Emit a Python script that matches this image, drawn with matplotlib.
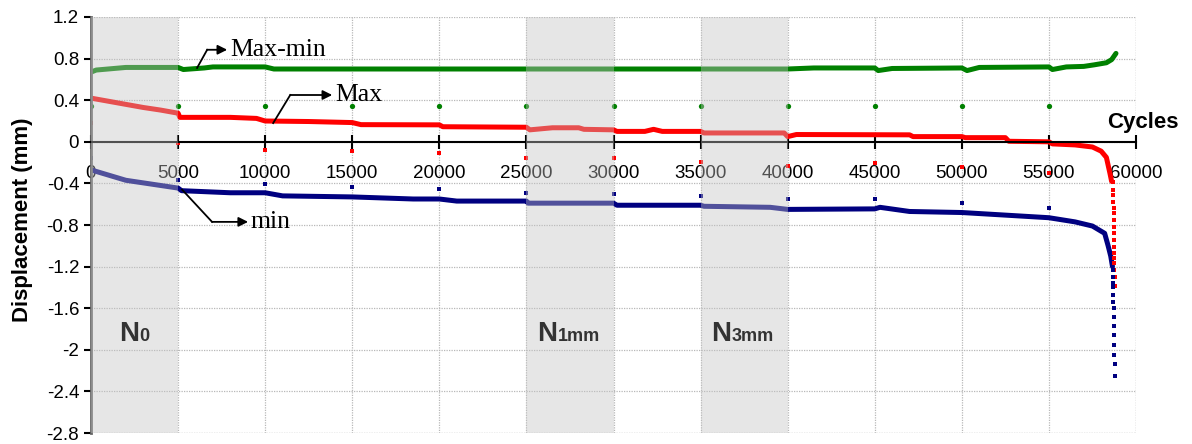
import numpy as np
import matplotlib.pyplot as plt
from matplotlib.ticker import FuncFormatter, MultipleLocator

plt.rcParams['font.family'] = ['Liberation Sans', 'DejaVu Sans']

# Max-min curve (mm) vs cycles
cyc_range = [0, 300, 2000, 5000, 5300, 6500, 7000, 10000, 10500, 20000, 30000, 40000,
             41500, 45000, 45200, 46000, 50000, 50300, 51000, 55000, 55200, 56000,
             57000, 57600, 58300, 58600, 58850]
disp_range = [0.67, 0.69, 0.715, 0.715, 0.695, 0.71, 0.72, 0.72, 0.70, 0.70, 0.70, 0.70,
              0.71, 0.71, 0.685, 0.705, 0.71, 0.685, 0.715, 0.72, 0.695, 0.72,
              0.725, 0.74, 0.76, 0.79, 0.85]

# Max curve
cyc_max = [0, 1000, 2000, 3000, 4000, 5000, 5100, 8000, 9500, 10000, 12500, 15000, 15500,
           20000, 20200, 25000, 25200, 26500, 28000, 28300, 30000, 30200, 31800, 32300,
           32800, 35000, 35200, 39800, 40000, 40500, 47000, 47200, 50000, 50200, 52500,
           52700, 55000, 55200, 56500, 57500, 58000, 58300, 58500, 58600]
disp_max = [0.42, 0.39, 0.36, 0.33, 0.305, 0.275, 0.235, 0.235, 0.225, 0.20, 0.195, 0.185, 0.165,
            0.163, 0.145, 0.14, 0.115, 0.135, 0.135, 0.12, 0.115, 0.10, 0.10, 0.12,
            0.10, 0.10, 0.085, 0.085, 0.05, 0.07, 0.067, 0.05, 0.05, 0.04, 0.04,
            0.005, 0.0, -0.02, -0.03, -0.05, -0.09, -0.15, -0.30, -0.38]
# Max: failure tail (scattered readings)
cyc_max_tail = [58680, 58690, 58700, 58700, 58710, 58710, 58720, 58720, 58730, 58730,
                58740, 58740, 58750, 58750, 58760, 58770, 58780]
disp_max_tail = [-0.39, -0.46, -0.51, -0.58, -0.64, -0.68, -0.75, -0.82, -0.88, -0.94,
                 -1.01, -1.07, -1.12, -1.17, -1.23, -1.30, -1.39]

# min curve
cyc_min = [0, 2000, 5000, 5200, 8000, 10000, 11000, 15000, 18500, 20000, 21000, 25000,
           25100, 30000, 30200, 35000, 35200, 39000, 40000, 45000, 45300, 47000, 50000,
           52000, 55000, 56500, 57500, 58200, 58400, 58550, 58650]
disp_min = [-0.27, -0.37, -0.445, -0.47, -0.49, -0.49, -0.52, -0.53, -0.55, -0.55, -0.57, -0.57,
            -0.59, -0.59, -0.61, -0.61, -0.62, -0.63, -0.65, -0.645, -0.63, -0.67, -0.68,
            -0.70, -0.73, -0.77, -0.81, -0.88, -1.0, -1.1, -1.2]
cyc_min_tail = [58660, 58670, 58680, 58690, 58700, 58700, 58710, 58720, 58730, 58740,
                58750, 58760, 58770, 58780]
disp_min_tail = [-1.23, -1.30, -1.36, -1.40, -1.47, -1.54, -1.60, -1.68, -1.77, -1.86,
                 -1.95, -2.05, -2.14, -2.25]

# isolated readings at every 5000 cycles
cyc_marks = [0, 5000, 10000, 15000, 20000, 25000, 30000, 35000, 40000, 45000, 50000, 55000]
range_marks = [0.34] * 12
max_marks = [0.18, -0.01, -0.08, -0.09, -0.11, -0.16, -0.16, -0.19, -0.23, -0.20, -0.24, -0.30]
min_marks = [-0.16, -0.37, -0.41, -0.43, -0.45, -0.49, -0.50, -0.52, -0.55, -0.55, -0.59, -0.64]

# shaded cycle windows and their labels
spans = [(0, 5000), (25000, 30000), (35000, 40000)]
span_names = ['0', '1mm', '3mm']

green, red, blue = '#008000', '#ff0000', '#000080'

fig = plt.figure(figsize=(11.92, 4.44), dpi=100)
ax = fig.add_axes([91 / 1192, 11 / 444, 1045 / 1192, 416 / 444])

lw = 3.6
ax.plot(cyc_range, disp_range, color=green, lw=lw, solid_capstyle='round', zorder=2)
ax.plot(cyc_max, disp_max, color=red, lw=lw, solid_capstyle='round', zorder=2)
ax.plot(cyc_min, disp_min, color=blue, lw=lw, solid_capstyle='round', zorder=2)
ax.plot(cyc_max_tail, disp_max_tail, 's', color=red, ms=3, mew=0, zorder=2)
ax.plot(cyc_min_tail, disp_min_tail, 's', color=blue, ms=3, mew=0, zorder=2)
ax.plot(cyc_marks, range_marks, 'o', color=green, ms=3.8, mew=0, zorder=2)
ax.plot(cyc_marks, max_marks, 's', color=red, ms=3.2, mew=0, zorder=2)
ax.plot(cyc_marks, min_marks, 's', color=blue, ms=3.2, mew=0, zorder=2)

for (a, b), name in zip(spans, span_names):
    ax.axvspan(a, b, color='#c3c3c3', alpha=0.41, lw=0, zorder=3)
    xm = a + 2750 if name == '0' else a + 1780
    ax.text(xm, -1.92, 'N', fontsize=20, fontweight='bold', color='#333333',
            ha='right', va='baseline', zorder=4)
    ax.text(xm, -1.92, name, fontsize=13, fontweight='bold', color='#333333',
            ha='left', va='baseline', zorder=4)

ax.set_xlim(0, 60000)
ax.set_ylim(-2.8, 1.2)
ax.xaxis.set_major_locator(MultipleLocator(5000))
ax.yaxis.set_major_locator(MultipleLocator(0.4))
ax.yaxis.set_major_formatter(FuncFormatter(lambda v, p: '%g' % round(v, 1)))
ax.grid(True, color='#b8b8b8', lw=0.9, ls=(0, (1, 1)))

for s in ['top', 'right']:
    ax.spines[s].set_visible(False)
ax.spines['bottom'].set_position(('data', 0))
ax.spines['bottom'].set_linewidth(1.5)
ax.spines['left'].set_color('#666666')
ax.spines['left'].set_linewidth(2)
ax.tick_params(axis='x', direction='inout', length=10, width=1.5, pad=12, labelsize=13.5)
ax.tick_params(axis='y', direction='out', length=5, width=1.5, labelsize=13.5)
ax.axhline(-2.8, color='#b8b8b8', lw=0.9, ls=(0, (1, 1)), zorder=1)
ax.axvline(60000, color='#b8b8b8', lw=0.9, ls=(0, (1, 1)), zorder=1)

ax.text(60400, 0.135, 'Cycles', fontsize=16, fontweight='bold', ha='center',
        va='baseline', clip_on=False)
fig.text(23 / 1192, 1 - 220 / 444, 'Displacement (mm)', fontsize=16, fontweight='bold',
         rotation=90, ha='center', va='center')

serif = ['Liberation Serif', 'DejaVu Serif']
arrows = [('Max-min', (6090, 0.71), (6670, 0.885), (7820, 0.885)),
          ('Max', (10460, 0.18), (11440, 0.45), (13850, 0.45)),
          ('min', (5230, -0.46), (6950, -0.77), (9020, -0.77))]
for label, p0, p1, p2 in arrows:
    ax.plot([p0[0], p1[0]], [p0[1], p1[1]], color='black', lw=1.3, zorder=5)
    ax.annotate('', xy=p2, xytext=p1,
                arrowprops=dict(arrowstyle='-|>', color='black', lw=1.3,
                                mutation_scale=14, shrinkA=0, shrinkB=0), zorder=5)
    ax.text(p2[0] + 150, p2[1], label, family=serif, fontsize=18.5,
            ha='left', va='center', zorder=5)

plt.savefig('out.png', dpi=100)
